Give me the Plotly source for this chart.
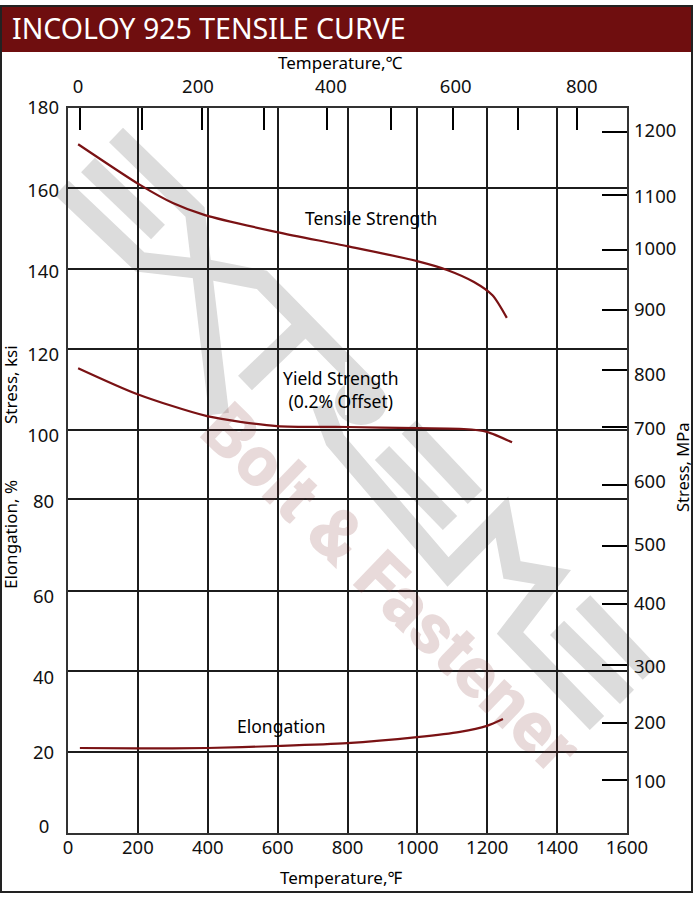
import plotly.graph_objects as go

# ---------- data ----------
tensile_f = [29, 206, 300, 392, 598, 799, 999, 1085, 1162, 1215, 1256]
tensile_ksi = [171, 160.9, 156.4, 153.4, 149.2, 145.7, 142, 139.8, 136.8, 133.5, 127.9]
yield_f = [29, 197, 398, 598, 799, 999, 1133, 1199, 1271]
yield_ksi = [115.4, 109, 103.5, 101, 100.8, 100.5, 100.3, 99.6, 97]
elong_f = [34, 197, 398, 598, 799, 999, 1122, 1199, 1245]
elong_pct = [21.1, 21.0, 21.1, 21.6, 22.3, 23.8, 25.1, 26.6, 28.3]

f_ticks = [0, 200, 400, 600, 800, 1000, 1200, 1400, 1600]
left_labels = ["180", "160", "140", "120", "100", "80\u00a0", "60\u00a0", "40\u00a0", "20\u00a0", "0\u00a0\u00a0"]
left_grid = [180, 160.1, 140, 120.2, 100.06, 82.9, 60.1, 40.2, 20.1, 0]
left_label_pos = [180, 159.6, 139.3, 118.9, 98.8, 82.2, 58.6, 38.7, 20.1, 1.5]
c_mark_pos = [0, 99.8, 196.4, 296, 398, 501, 601, 705, 800]
c_labels = ["0", "200", "400", "600", "800"]
c_label_pos = [-3.2, 190, 404, 605, 808]
mpa_labels = ["1200", "1100", "1000", "900", "800", "700", "600", "500", "400", "300", "200", "100"]
mpa_mark_pos = [1200, 1093, 1000, 898, 796, 699, 601, 497, 399, 295, 197, 100]
mpa_label_pos = [1203, 1091, 1002, 898, 789, 697, 606, 499, 400, 293, 197, 97]

# ---------- layout helpers ----------
W, H = 694, 900
L, R, T, B = 68, 627, 108, 833
FONT = "Noto Sans"
RED = "#6f0e0f"
CURVE = "#7a1214"
GRID = "#1c1c1c"
def px(x): return (x - L) / (R - L)
def py(y): return (B - y) / (B - T)

def poly(points):
    return "M " + " L ".join(f"{px(x):.4f} {py(y):.4f}" for x, y in points)

wm_strokes = [
    [(116, 135), (195, 212), (219, 414)],
    [(88, 165), (158, 232)],
    [(62, 188), (140, 262), (210, 270), (262, 280), (372, 392)],
    [(245, 383), (300, 330)],
    [(322, 405), (335, 440), (448, 572), (502, 517), (512, 570), (553, 577), (510, 633), (597, 723)],
    [(409, 427), (475, 497)],
    [(382, 453), (450, 523)],
    [(583, 602), (650, 673)],
    [(557, 628), (627, 697)],
]

shapes = []
for s in wm_strokes:
    shapes.append(dict(type="path", path=poly(s), xref="paper", yref="paper", layer="below",
                       line=dict(color="#dcdcdc", width=20), fillcolor="rgba(0,0,0,0)"))
shapes.append(dict(type="circle", xref="paper", yref="paper", layer="below",
                   x0=px(335), x1=px(387), y0=py(425), y1=py(380),
                   fillcolor="#dcdcdc", line=dict(width=0)))
for x, y0, y1 in [(347, 198, 235), (417, 198, 235), (347, 362, 415), (277, 709, 744)]:
    shapes.append(dict(type="rect", xref="paper", yref="paper", layer="between",
                       x0=px(x - 2), x1=px(x + 2), y0=py(y1), y1=py(y0),
                       fillcolor="white", line=dict(width=0)))
shapes.append(dict(type="rect", xref="paper", yref="paper", layer="above",
                   x0=px(1), x1=px(692), y0=py(52), y1=py(6), fillcolor=RED, line=dict(width=0)))
shapes.append(dict(type="rect", xref="paper", yref="paper", layer="above",
                   x0=px(1), x1=px(692), y0=py(892), y1=py(6),
                   fillcolor="rgba(0,0,0,0)", line=dict(color="#222222", width=2)))

def txt(s, x, y, size=17.5, color="black", angle=0, weight=None, family=FONT, **kw):
    font = dict(family=family, size=size, color=color)
    if weight:
        font["weight"] = weight
    return dict(text=s, x=px(x), y=py(y), xref="paper", yref="paper", showarrow=False,
                font=font, textangle=angle, xanchor="center", yanchor="middle", **kw)

annotations = [
    dict(text="INCOLOY 925 TENSILE CURVE", x=px(10), y=py(28), xref="paper", yref="paper",
         showarrow=False, xanchor="left", yanchor="middle",
         font=dict(family=FONT, size=28.5, color="white")),
    txt("Temperature,\u2103", 340, 62, 17),
    txt("Temperature,\u2109", 341, 877, 17),
    txt("Stress, ksi", 10, 385, 17, angle=-90),
    txt("Elongation, %", 10, 535, 17, angle=-90),
    txt("Stress, MPa", 683, 467, 16.5, angle=-90),
    txt("Tensile Strength", 371, 218),
    txt("Yield Strength<br>(0.2% Offset)", 341, 389),
    txt("Elongation", 281, 726),
    txt("Bolt &amp; Fastener", 392, 588, 71, color="rgba(130,50,50,0.18)", angle=44, weight=900, family="Roboto"),
]

fig = go.Figure()
for name, x, y in [("Tensile Strength", tensile_f, tensile_ksi),
                   ("Yield Strength", yield_f, yield_ksi),
                   ("Elongation", elong_f, elong_pct)]:
    fig.add_trace(go.Scatter(x=x, y=y, name=name, mode="lines",
                             line=dict(color=CURVE, width=2.2, shape="spline", smoothing=0.7),
                             showlegend=False, hoverinfo="skip"))
# empty traces keep the secondary axes alive
for xa, ya in [("x2", "y2"), ("x3", "y3"), ("x", "y4")]:
    fig.add_trace(go.Scatter(x=[None], y=[None], xaxis=xa, yaxis=ya, showlegend=False, hoverinfo="skip"))

tick_font = dict(family=FONT, size=18.5, color="#111111")
fig.update_layout(
    width=W, height=H, autosize=False,
    margin=dict(l=L, r=W - R, t=T, b=H - B),
    paper_bgcolor="white", plot_bgcolor="rgba(0,0,0,0)",
    showlegend=False, shapes=shapes, annotations=annotations,
    xaxis=dict(range=[0, 1600], tickmode="array", tickvals=f_ticks, ticktext=[str(v) for v in f_ticks],
               showgrid=True, gridcolor=GRID, gridwidth=1.5, zeroline=False, ticks="", tickfont=tick_font,
               showline=True, linecolor="#333333", linewidth=2, mirror=True, side="bottom",
               ticklabelstandoff=-3),
    yaxis=dict(range=[0, 180], tickmode="array", tickvals=left_grid, showticklabels=False,
               showgrid=True, gridcolor=GRID, gridwidth=1.5, zeroline=False, ticks="",
               showline=True, linecolor="#333333", linewidth=2, mirror=True),
    xaxis2=dict(range=[-19.3, 880.8], overlaying="x", side="top", anchor="y2", tickmode="array",
                tickvals=c_mark_pos, showticklabels=False, showgrid=False, zeroline=False,
                ticks="inside", ticklen=22, tickwidth=2, tickcolor="black"),
    yaxis2=dict(range=[10, 1240.7], overlaying="y", side="right", anchor="x2", tickmode="array",
                tickvals=mpa_mark_pos, showticklabels=False, showgrid=False, zeroline=False,
                ticks="inside", ticklen=25, tickwidth=2, tickcolor="black"),
    xaxis3=dict(range=[-19.3, 880.8], overlaying="x", side="top", anchor="y3", tickmode="array",
                tickvals=c_label_pos, ticktext=c_labels, showgrid=False, zeroline=False, ticks="",
                tickfont=tick_font, ticklabelstandoff=10),
    yaxis3=dict(range=[10, 1240.7], overlaying="y", side="right", anchor="x3", tickmode="array",
                tickvals=mpa_label_pos, ticktext=mpa_labels, showgrid=False, zeroline=False, ticks="",
                tickfont=tick_font, ticklabelstandoff=6),
    yaxis4=dict(range=[0, 180], overlaying="y", side="left", anchor="x", tickmode="array",
                tickvals=left_label_pos, ticktext=left_labels, showgrid=False, zeroline=False, ticks="",
                tickfont=tick_font, ticklabelstandoff=8),
)

fig.write_html("out.html", config=dict(displayModeBar=False),
               post_script="document.body.style.margin='0';document.body.style.overflow='hidden';")
